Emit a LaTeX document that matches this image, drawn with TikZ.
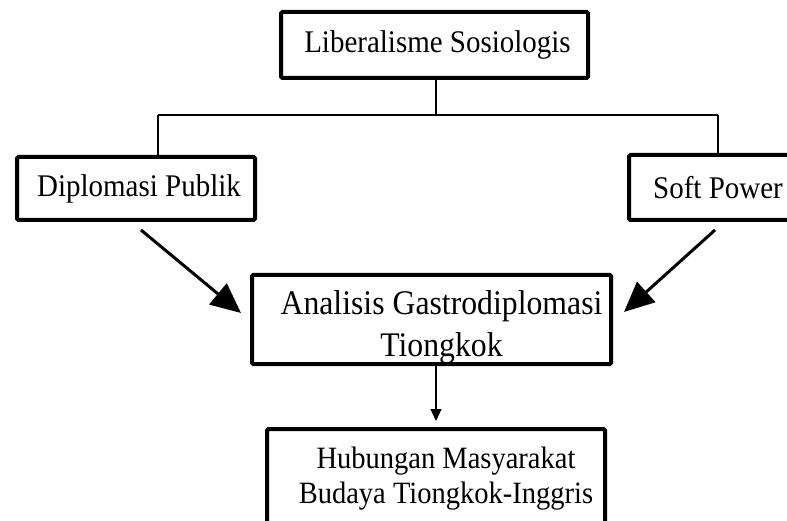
\documentclass[tikz,border=0pt]{standalone}
\usepackage{fontspec}
\setmainfont{Liberation Serif}[FakeStretch=0.92]
\usetikzlibrary{calc}
\usetikzlibrary{arrows.meta}

\begin{document}
\begin{tikzpicture}[x=1pt,y=-1pt,
    kotak/.style={draw=black,line width=4pt,rounded corners=1.5pt,inner sep=0pt},
    garis/.style={line width=1.2pt},
    panah/.style={line width=3pt,-{Triangle[length=30pt,width=27pt]}},
    panahkecil/.style={line width=1.2pt,-{Triangle[length=12pt,width=11pt]}}]
    \useasboundingbox (0,0) rectangle (787,521);
    \clip (0,0) rectangle (787,521);

    \node[kotak,minimum width=307pt,minimum height=66pt,font=\fontsize{31.5}{36}\selectfont] (lib) at (434.5,45) {\hspace*{6pt}Liberalisme Sosiologis};
    \node[kotak,minimum width=238pt,minimum height=63pt,font=\fontsize{31.5}{36}\selectfont] (dip) at (136,188.5) {\hspace*{6pt}Diplomasi Publik};
    \node[kotak,minimum width=178pt,minimum height=65pt,font=\fontsize{31.5}{36}\selectfont] (soft) at (718,187.5) {Soft Power};
    \node[kotak,minimum width=359pt,align=center,font=\fontsize{34.5}{42}\selectfont] (ana) at (431.5,319.5)
        {\rule{0pt}{40pt}\hspace*{20pt}Analisis Gastrodiplomasi\\\hspace*{20pt}Tiongkok};
    \node[kotak,minimum width=338pt,align=center,font=\fontsize{31}{35}\selectfont] (hub) at (436,482)
        {\rule{0pt}{39pt}\hspace*{20pt}Hubungan Masyarakat\\\hspace*{20pt}Budaya Tiongkok-Inggris\rule[-32pt]{0pt}{0pt}};

    % percabangan dari atas
    \coordinate (cabang) at (436,115);
    \coordinate (kiri) at (158,115);
    \coordinate (kanan) at (718,115);
    \draw[garis] (lib.south -| cabang) -- (cabang);
    \draw[garis] (kiri) -- (kanan);
    \draw[garis] (kiri) -- (dip.north -| kiri);
    \draw[garis] (kanan) -- (soft.north);

    \draw[panah] ($(dip.south)+(5,8)$) -- ($(ana.west)+(-9,-6.5)$);
    \draw[panah] ($(soft.south)+(-3,8)$) -- ($(ana.east)+(11,-7.5)$);
    \draw[panahkecil] (ana.south -| hub.north) -- ($(hub.north)+(0,-6)$);
\end{tikzpicture}
\end{document}
